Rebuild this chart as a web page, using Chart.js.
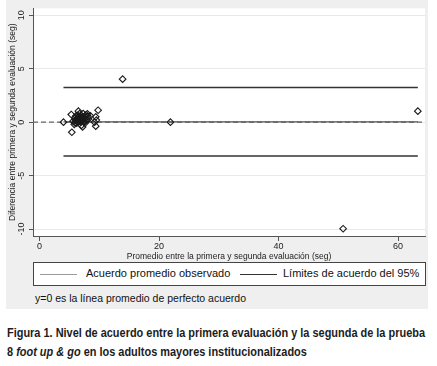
<!DOCTYPE html>
<html>
<head>
<meta charset="utf-8">
<script src="https://cdn.jsdelivr.net/npm/chart.js@4/dist/chart.umd.min.js"></script>
<style>
  body { margin: 0; background: #fff; width: 437px; height: 366px; overflow: hidden; position: relative; font-family: "Liberation Sans", Arial, sans-serif; }
  #region { position: absolute; left: 6px; top: 0; width: 422px; height: 309px; background: #efefef; }
  #chart { position: absolute; left: 0; top: 0; }
  #legend { position: absolute; left: 33px; top: 262px; width: 391px; height: 22px; background: #fff; border: 1px solid #444; font-size: 11px; color: #111; }
  .item { position: absolute; top: 4px; white-space: nowrap; }
  .swatch { position: absolute; top: 11px; width: 37px; }
  #note { position: absolute; left: 35px; top: 292px; font-size: 10.5px; color: #111; white-space: nowrap; }
  .cap { position: absolute; left: 7px; font-family: "Liberation Sans Narrow", "Liberation Sans", Arial, sans-serif; font-weight: bold; font-size: 13px; color: #1c1c1c; white-space: nowrap; transform-origin: 0 0; }
</style>
</head>
<body>
<div id="region"></div>
<canvas id="chart" width="437" height="262"></canvas>
<div id="legend">
  <div class="swatch" style="left:6px;border-top:1px solid #9a9a9a"></div>
  <div class="item" id="lab0" style="left:52px"></div>
  <div class="swatch" style="left:206px;border-top:1.5px solid #333"></div>
  <div class="item" id="lab1" style="left:249px"></div>
</div>
<div id="note">y=0 es la línea promedio de perfecto acuerdo</div>
<div class="cap" id="cap1" style="top:325px">Figura 1. Nivel de acuerdo entre la primera evaluación y la segunda de la prueba</div>
<div class="cap" id="cap2" style="top:344px">8 <i>foot up &amp; go</i> en los adultos mayores institucionalizados</div>
<script>
// promedio y diferencia de las dos evaluaciones (seg)
var avgValues = [4.0, 5.3, 5.4, 5.6, 5.8, 5.9, 6.0, 6.1, 6.2, 6.3, 6.4, 6.5, 6.5, 6.6, 6.7, 6.8, 6.9, 7.0, 7.0, 7.1,
                 7.2, 7.2, 7.3, 7.4, 7.5, 7.6, 7.7, 7.8, 8.0, 8.2, 8.5, 9.2, 9.4, 9.4, 9.5, 9.8,
                 6.2, 6.6, 6.9, 7.3, 7.6, 8.1, 5.9, 6.4, 7.1, 7.9,
                 13.9, 21.9, 50.8, 63.3];
var diffValues = [0.0, 0.72, -0.94, 0.1, -0.2, 0.4, 0.2, 0.6, -0.1, 0.3, 0.0, 1.03, 0.5, 0.2, 0.8, 0.1, 0.4, -0.3, 0.6, 0.2,
                  -0.44, 0.5, 0.81, 0.0, 0.3, 0.6, 0.1, 0.7, 0.78, 0.3, 0.6, 0.0, 0.5, -0.37, 0.2, 1.12,
                  0.15, 0.35, 0.0, 0.45, -0.1, 0.55, -0.05, 0.65, 0.35, 0.2,
                  4.03, 0.0, -9.97, 1.03];

var lineRange = [4.0, 63.3];      // del menor al mayor promedio
var meanDiff = 0.03;
var upperLimit = 3.25;
var lowerLimit = -3.16;

var xTicks = [0, 20, 40, 60];
var yTicks = [-10, -5, 0, 5, 10];
var xLimits = [-1.1, 64.5];
var yLimits = [-10.65, 10.65];

var seriesLabels = ['Acuerdo promedio observado', 'Límites de acuerdo del 95%'];
var xTitle = 'Promedio entre la primera y segunda evaluación (seg)';
var yTitle = 'Diferencia entre primera y segunda evaluación (seg)';

document.getElementById('lab0').textContent = seriesLabels[0];
document.getElementById('lab1').textContent = seriesLabels[1];

var points = avgValues.map(function(x, i) { return {x: x, y: diffValues[i]}; });
function hline(y, xs) { return xs.map(function(x) { return {x: x, y: y}; }); }

var plotBg = {
    id: 'plotBg',
    beforeDraw: function(chart) {
        var a = chart.chartArea, c = chart.ctx;
        c.save();
        c.fillStyle = '#fff';
        c.fillRect(a.left, a.top, a.right - a.left, a.bottom - a.top);
        c.restore();
    },
    afterDraw: function(chart) {
        var s = chart.scales.y, a = chart.chartArea, c = chart.ctx;
        c.save();
        c.fillStyle = '#222';
        c.textAlign = 'center';
        c.textBaseline = 'middle';
        // etiquetas verticales del eje y, como en Stata
        c.font = '9px "Liberation Sans", Arial, sans-serif';
        yTicks.forEach(function(v) {
            c.save();
            c.translate(22, s.getPixelForValue(v));
            c.rotate(-Math.PI / 2);
            c.fillText(String(v), 0, 0);
            c.restore();
        });
        // titulo del eje x
        c.font = '8.5px "Liberation Sans", Arial, sans-serif';
        c.textBaseline = 'alphabetic';
        c.fillText(xTitle, (a.left + a.right) / 2, 259);
        c.restore();
    }
};

new Chart(document.getElementById('chart'), {
    type: 'scatter',
    data: {
        datasets: [{
            label: 'puntos',
            data: points,
            pointStyle: 'rectRot',
            pointRadius: 3.3,
            pointBorderWidth: 1.1,
            borderColor: '#1a1a1a',
            backgroundColor: 'rgba(255,255,255,0)'
        }, {
            label: seriesLabels[0],
            data: hline(meanDiff, lineRange),
            showLine: true,
            pointRadius: 0,
            borderColor: '#555',
            borderWidth: 1.2
        }, {
            label: seriesLabels[1],
            data: hline(upperLimit, lineRange),
            showLine: true,
            pointRadius: 0,
            borderColor: '#333',
            borderWidth: 1.4
        }, {
            label: 'inferior',
            data: hline(lowerLimit, lineRange),
            showLine: true,
            pointRadius: 0,
            borderColor: '#333',
            borderWidth: 1.4
        }, {
            label: 'y=0',
            data: hline(0, xLimits),
            showLine: true,
            pointRadius: 0,
            borderColor: '#666',
            borderWidth: 1.2,
            borderDash: [5, 3]
        }]
    },
    options: {
        responsive: false,
        animation: false,
        layout: { padding: { top: 8, right: 12, left: 0, bottom: 0 } },
        plugins: {
            legend: { display: false },
            tooltip: { enabled: false }
        },
        scales: {
            x: {
                type: 'linear',
                min: xLimits[0],
                max: xLimits[1],
                afterBuildTicks: function(s) { s.ticks = xTicks.map(function(v) { return {value: v}; }); },
                afterFit: function(s) { s.height = 26; },
                ticks: { font: { size: 9, family: '"Liberation Sans", Arial, sans-serif' }, color: '#222', padding: 0, maxRotation: 0 },
                grid: { drawOnChartArea: false, tickLength: 5, tickColor: '#555' },
                border: { color: '#555' }
            },
            y: {
                type: 'linear',
                min: yLimits[0],
                max: yLimits[1],
                afterBuildTicks: function(s) { s.ticks = yTicks.map(function(v) { return {value: v}; }); },
                afterFit: function(s) { s.width = 33; },
                ticks: { color: 'rgba(0,0,0,0)', font: { size: 9 } },
                grid: { color: '#e9e9e9', tickLength: 4, tickColor: '#555' },
                border: { color: '#555' },
                title: {
                    display: true,
                    text: yTitle,
                    font: { size: 8.5, family: '"Liberation Sans", Arial, sans-serif' },
                    color: '#222',
                    padding: { top: 8, bottom: 0 }
                }
            }
        }
    },
    plugins: [plotBg]
});

// ajustar el pie de figura al ancho de la fuente condensada original
var c1 = document.getElementById('cap1'), c2 = document.getElementById('cap2');
var k = 418 / c1.getBoundingClientRect().width;
c1.style.transform = 'scaleX(' + k + ')';
c2.style.transform = 'scaleX(' + k + ')';
</script>
</body>
</html>
